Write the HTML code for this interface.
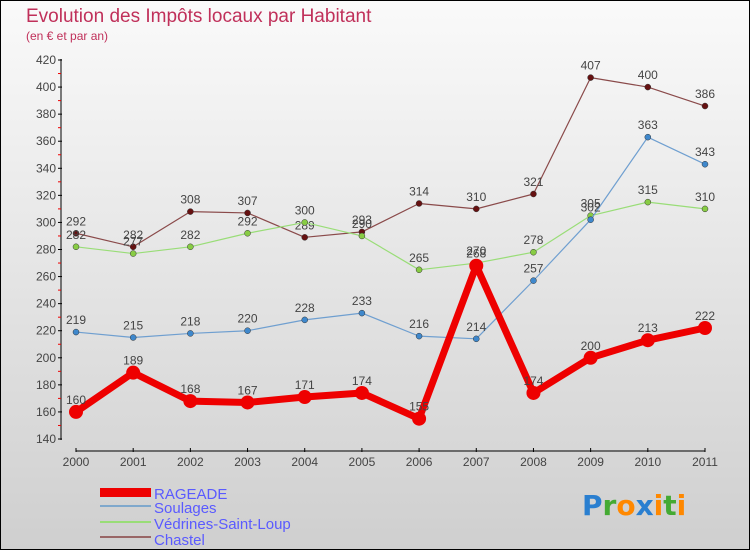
<!DOCTYPE html>
<html><head><meta charset="utf-8"><style>
body{margin:0;width:750px;height:550px;overflow:hidden;font-family:"Liberation Sans",sans-serif}
svg{display:block}
</style></head><body>
<svg id="chart" width="750" height="550">
<defs><linearGradient id="bg" x1="0" y1="0" x2="0" y2="1"><stop offset="0" stop-color="#fafafa"/><stop offset="1" stop-color="#cfcfcf"/></linearGradient></defs>
<rect x="0.5" y="0.5" width="749" height="549" fill="url(#bg)" stroke="#000"/>
<text x="26" y="22" font-size="19" fill="#c0305a">Evolution des Impôts locaux par Habitant</text>
<text x="26" y="40" font-size="12" fill="#c0305a">(en € et par an)</text>
<g id="axes"></g><g id="series"></g>
<g>
<rect x="100" y="488" width="51" height="9" fill="#e00"/>
<text x="154" y="499" font-size="15" fill="#5a5aff">RAGEADE</text>
<rect x="100" y="505" width="51" height="2" fill="#7fa8cc"/>
<text x="154" y="513" font-size="15" fill="#5a5aff">Soulages</text>
<rect x="100" y="521" width="51" height="2" fill="#99dd77"/>
<text x="154" y="529" font-size="15" fill="#5a5aff">Védrines-Saint-Loup</text>
<rect x="100" y="536" width="51" height="2" fill="#996666"/>
<text x="154" y="545" font-size="15" fill="#5a5aff">Chastel</text>
</g>
<g font-size="28" font-weight="bold" font-family="DejaVu Sans,sans-serif">
<text x="582" y="515"><tspan fill="#2a7fd0">P</tspan><tspan fill="#44aa33">r</tspan><tspan fill="#ff8800">o</tspan><tspan fill="#2a7fd0">x</tspan><tspan fill="#ff8800">i</tspan><tspan fill="#44aa33">t</tspan><tspan fill="#ff8800">i</tspan></text>
</g>
</svg>
<script>
const years=["2000","2001","2002","2003","2004","2005","2006","2007","2008","2009","2010","2011"];
const rageade=[160,189,168,167,171,174,155,268,174,200,213,222];
const soulages=[219,215,218,220,228,233,216,214,257,302,363,343];
const vedrines=[282,277,282,292,300,290,265,270,278,305,315,310];
const chastel=[292,282,308,307,289,293,314,310,321,407,400,386];
const yTicks=[140,160,180,200,220,240,260,280,300,320,340,360,380,400,420];
const NS="http://www.w3.org/2000/svg";
const x=i=>76+i*(705-76)/11;
const y=v=>439-(v-140)*(439-60)/280;
function mk(tag,attrs,parent,txt){const e=document.createElementNS(NS,tag);for(const k in attrs)e.setAttribute(k,attrs[k]);if(txt!==undefined)e.textContent=txt;parent.appendChild(e);return e;}
const ax=document.getElementById('axes');
let l=mk('line',{x1:61,y1:59,x2:61,y2:440,stroke:'#000','stroke-width':1},ax);


l=mk('line',{x1:76,y1:451,x2:705,y2:451,stroke:'#000','stroke-width':1},ax);


yTicks.forEach((v,i)=>{
  mk('line',{x1:58,x2:62,y1:y(v),y2:y(v),stroke:'#000'},ax);
  if(i<yTicks.length-1)mk('line',{x1:58,x2:61,y1:y(v+10),y2:y(v+10),stroke:'#e00'},ax);
  const t=mk('text',{x:56,y:y(v)+4,'font-size':12,fill:'#444','text-anchor':'end'},ax,v);
  
  
});
years.forEach((yr,i)=>{
  mk('line',{x1:x(i),x2:x(i),y1:448,y2:452,stroke:'#000'},ax);
  const t=mk('text',{x:x(i),y:466,'font-size':12,fill:'#444','text-anchor':'middle'},ax,yr);
  
  
});
const sg=document.getElementById('series');
function draw(data,name,color,w,r,dot){
  const g=mk('g',{},sg);
  
  
  const p=mk('polyline',{points:data.map((v,i)=>x(i)+','+y(v)).join(' '),fill:'none',stroke:color,'stroke-width':w,'stroke-linejoin':'round'},g);
  
  
  data.forEach((v,i)=>{
    const c=mk('circle',{cx:x(i),cy:y(v),r:r,fill:dot,stroke:w>3?'none':'#333','stroke-width':0.5},g);
    
    
    const t=mk('text',{x:x(i),y:y(v)-8,'font-size':12,fill:'#444','text-anchor':'middle'},g,v);
    
    
  });
}
draw(chastel,'chastel','#8a4a4a',1.2,3,'#661111');
draw(vedrines,'vedrines','#99dd77',1.2,3,'#88cc44');
draw(soulages,'soulages','#6f9fd0',1.2,3,'#3f88cc');
draw(rageade,'rageade','#ee0000',7,7,'#ee0000');
</script>
</body></html>
